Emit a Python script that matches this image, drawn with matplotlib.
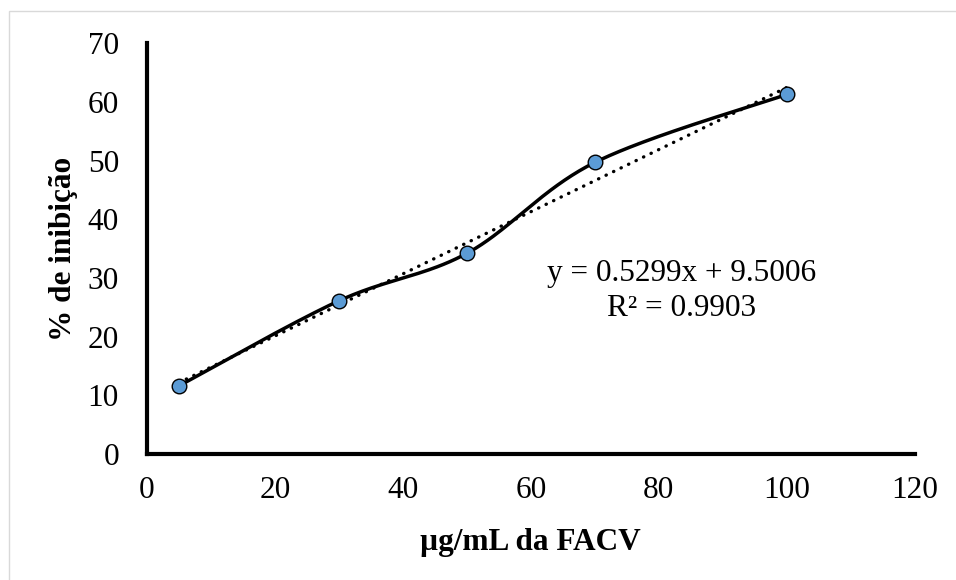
import numpy as np
import matplotlib
matplotlib.use("Agg")
import matplotlib.pyplot as plt
from matplotlib.patches import Rectangle

# Concentration (µg/mL) and inhibition (%)
conc = [5, 30, 50, 70, 100]
inhib = [11.6, 26.1, 34.2, 49.7, 61.3]

# Linear trendline coefficients shown on the chart
slope = 0.5299
intercept = 9.5006
r2 = 0.9903

xticks = [0, 20, 40, 60, 80, 100, 120]
yticks = [0, 10, 20, 30, 40, 50, 60, 70]

plt.rcParams['font.family'] = ['Liberation Serif', 'DejaVu Serif']
FS = 22.5

fig = plt.figure(figsize=(9.56, 5.8), dpi=100)
ax = fig.add_axes([0.1535, 0.2172, 0.8035, 0.7081])

# light frame around the chart area
fig.patches.append(Rectangle((9 / 956, -0.05), 1.2, 1 - 10.5 / 580 + 0.05,
                             transform=fig.transFigure, fill=False,
                             edgecolor='#d9d9d9', linewidth=1.0, zorder=0))


def smooth_curve(xs, ys, sx, sy, n=60):
    """Cardinal (Catmull-Rom style) Bezier smoothing, computed in a
    scaled space so the curve shape does not depend on axis units."""
    P = np.column_stack([np.asarray(xs, float) * sx, np.asarray(ys, float) * sy])
    pts = []
    for i in range(len(P) - 1):
        p0 = P[i - 1] if i > 0 else P[i]
        p1 = P[i]
        p2 = P[i + 1]
        p3 = P[i + 2] if i + 2 < len(P) else P[i + 1]
        c1 = p1 + (p2 - p0) / 6.0
        c2 = p2 - (p3 - p1) / 6.0
        t = np.linspace(0, 1, n)[:, None]
        seg = ((1 - t) ** 3) * p1 + 3 * ((1 - t) ** 2) * t * c1 \
            + 3 * (1 - t) * t ** 2 * c2 + t ** 3 * p2
        pts.append(seg if i == 0 else seg[1:])
    pts = np.vstack(pts)
    return pts[:, 0] / sx, pts[:, 1] / sy


sx_, sy_ = smooth_curve(conc, inhib, 6.41, 5.87)
ax.plot(sx_, sy_, color='black', linewidth=2.5, solid_capstyle='round', zorder=3)

# linear trendline over the data range
tx = np.array([min(conc), max(conc)])
ax.plot(tx, slope * tx + intercept, color='black', linewidth=2.4,
        linestyle=(0, (0.1, 2.4)), dash_capstyle='round', zorder=2)

ax.plot(conc, inhib, linestyle='none', marker='o', markersize=10.5,
        markerfacecolor='#5B9BD5', markeredgecolor='black',
        markeredgewidth=1.0, zorder=4)

ax.text(83.5, 27.8, f"y = {slope:.4f}x + {intercept:.4f}\nR² = {r2:.4f}",
        ha='center', va='center', fontsize=FS, linespacing=1.3)

ax.set_xlim(0, 120)
ax.set_ylim(0, 70)
ax.set_xticks(xticks)
ax.set_yticks(yticks)
ax.tick_params(axis='both', length=0, labelsize=FS)
ax.tick_params(axis='x', pad=16)
ax.tick_params(axis='y', pad=20)

for side in ('top', 'right'):
    ax.spines[side].set_visible(False)
for side in ('left', 'bottom'):
    ax.spines[side].set_linewidth(3.0)
    ax.spines[side].set_capstyle('projecting')

ax.set_xlabel('µg/mL da FACV', fontsize=FS, fontweight='bold')
ax.set_ylabel('% de inibição', fontsize=FS, fontweight='bold')
ax.xaxis.set_label_coords(0.5, -0.180)
ax.yaxis.set_label_coords(-0.089, 0.5)

fig.savefig('out.png', dpi=100)
